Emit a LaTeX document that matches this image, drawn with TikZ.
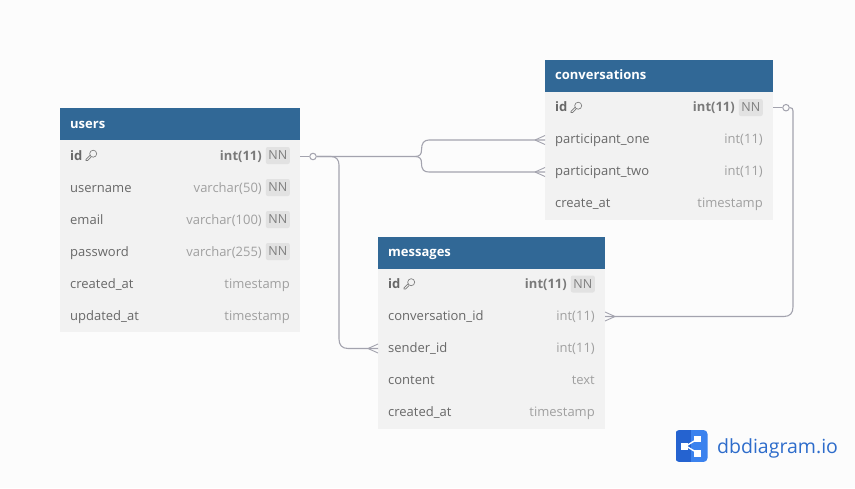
\documentclass[tikz,border=0pt]{standalone}
\usepackage{fontspec}
\setmainfont{Open Sans}
\usetikzlibrary{calc}
\definecolor{bgc}{HTML}{FCFCFC}
\definecolor{headc}{HTML}{316896}
\definecolor{rowc}{HTML}{F2F2F2}
\definecolor{namec}{HTML}{686868}
\definecolor{typec}{HTML}{A0A0A0}
\definecolor{pkc}{HTML}{7A7A7A}
\definecolor{nnbg}{HTML}{E2E2E2}
\definecolor{nnt}{HTML}{808080}
\definecolor{linec}{HTML}{A3A3AE}
\definecolor{logoa}{HTML}{2563D0}
\definecolor{logob}{HTML}{3B82EE}
\definecolor{logot}{HTML}{2D6CCB}
\tikzset{
  x=1pt,y=-1pt,
  headbox/.style={fill=headc,draw=none,minimum height=32pt,inner sep=0pt,anchor=north west,outer sep=0pt},
  rowbox/.style={fill=rowc,draw=none,minimum height=32pt,inner sep=0pt,anchor=north west,outer sep=0pt},
  headtxt/.style={text=white,font=\fontsize{13}{13}\selectfont\bfseries,anchor=base west,inner sep=0pt},
  nametxt/.style={text=namec,font=\fontsize{13}{13}\selectfont,anchor=base west,inner sep=0pt},
  pkname/.style={text=namec,font=\fontsize{13}{13}\selectfont\bfseries,anchor=base west,inner sep=0pt},
  typetxt/.style={text=typec,font=\fontsize{13}{13}\selectfont,anchor=base east,inner sep=0pt},
  pktype/.style={text=pkc,font=\fontsize{13}{13}\selectfont\bfseries,anchor=base east,inner sep=0pt},
  nntag/.style={fill=nnbg,text=nnt,font=\fontsize{12.5}{13}\selectfont,rounded corners=2pt,minimum width=24pt,minimum height=17pt,inner sep=0pt,anchor=east},
  rel/.style={draw=linec,line width=1.1pt},
  relthin/.style={draw=linec,line width=.9pt},
  zero/.style={circle,draw=linec,line width=1pt,fill=bgc,minimum size=6.5pt,inner sep=0pt},
  keyicon/.style={draw=pkc,line width=.65pt},
}
\def\bl{20}
% \tablehead{name}{x}{y}{width}{text}
\newcommand{\tablehead}[5]{%
  \node[headbox,minimum width=#4 pt] (#1) at (#2,#3) {};
  \node[headtxt] (#1-t) at (#2+10,#3+\bl) {#5};
}
% \tablerow{name}{x}{y}{width}{field}{type}{nn}
\newcommand{\tablerow}[7]{%
  \node[rowbox,minimum width=#4 pt] (#1) at (#2,#3) {};
  \node[nametxt] (#1-n) at (#2+10,#3+\bl) {#5};
  \ifx\relax#7\relax
    \node[typetxt] (#1-y) at (#2+#4-10,#3+\bl) {#6};
  \else
    \node[nntag] (#1-k) at (#2+#4-10,#3+15.5) {NN};
    \node[typetxt] (#1-y) at (#2+#4-38,#3+\bl) {#6};
  \fi
}
\newcommand{\pkrow}[5]{%
  \node[rowbox,minimum width=#4 pt] (#1) at (#2,#3) {};
  \node[pkname] (#1-n) at (#2+10,#3+\bl) {id};
  \node[nntag] (#1-k) at (#2+#4-10,#3+15.5) {NN};
  \node[pktype] (#1-y) at (#2+#4-38,#3+\bl) {#5};
  \begin{scope}[shift={(#2+31,#3+15.5)},keyicon]
    \draw (2.2,-1.8) circle (3.5pt);
    \draw (-1,-.2) -- (-5,3.8) -- (-5,5) -- (-3.4,5) -- (.2,1.4);
  \end{scope}
}
\begin{document}
\begin{tikzpicture}
\useasboundingbox (0,0) rectangle (855,488);
\fill[bgc] (0,0) rectangle (855,488);

% users
\def\bl{20}
\tablehead{users}{60}{108}{240}{users}
\pkrow{users-id}{60}{140}{240}{int(11)}
\tablerow{users-username}{60}{172}{240}{username}{varchar(50)}{1}
\tablerow{users-email}{60}{204}{240}{email}{varchar(100)}{1}
\tablerow{users-password}{60}{236}{240}{password}{varchar(255)}{1}
\tablerow{users-created}{60}{268}{240}{created\_at}{timestamp}{}
\tablerow{users-updated}{60}{300}{240}{updated\_at}{timestamp}{}

% conversations
\def\bl{19}
\tablehead{conv}{545}{60}{228}{conversations}
\pkrow{conv-id}{545}{92}{228}{int(11)}
\tablerow{conv-one}{545}{124}{228}{participant\_one}{int(11)}{}
\tablerow{conv-two}{545}{156}{228}{participant\_two}{int(11)}{}
\tablerow{conv-create}{545}{188}{228}{create\_at}{timestamp}{}

% messages
\def\bl{19.5}
\tablehead{msg}{378}{236.5}{227}{messages}
\pkrow{msg-id}{378}{268.5}{227}{int(11)}
\tablerow{msg-conv}{378}{300.5}{227}{conversation\_id}{int(11)}{}
\tablerow{msg-sender}{378}{332.5}{227}{sender\_id}{int(11)}{}
\tablerow{msg-content}{378}{364.5}{227}{content}{text}{}
\tablerow{msg-created}{378}{396.5}{227}{created\_at}{timestamp}{}

% connectors
\coordinate (usersport) at ($(users-id.east)+(0,.5)$);
\coordinate (convport) at ($(conv-id.east)+(0,-.3)$);
\node[zero] (uz) at (usersport-|313,0) {};
\node[zero] (cz) at (convport-|786,0) {};
\draw[rel] (usersport) -- (uz);
\draw[rel] (uz) -- (415,156.5)
  .. controls (420,156.5) and (421.5,154) .. (421.5,150)
  .. controls (421.5,143) and (424,140) .. (429,140) -- (conv-one.west);
\draw[rel] (415,156.5)
  .. controls (420,156.5) and (421.5,159) .. (421.5,163)
  .. controls (421.5,170) and (424,172) .. (429,172) -- (conv-two.west);
\draw[rel] (uz) -- (331,156.5) .. controls (336,156.5) and (339,159.5) .. (339,165)
  -- (339,339) .. controls (339,345) and (342,348.5) .. (348,348.5) -- (msg-sender.west);
\foreach \p in {conv-one,conv-two,msg-sender}{
  \draw[relthin] ($(\p.west)+(-10,0)$) -- ($(\p.west)+(0,-4.5)$);
  \draw[relthin] ($(\p.west)+(-10,0)$) -- ($(\p.west)+(0,4.5)$);
}
\draw[rel] (convport) -- (cz);
\draw[rel] (cz) -- (790,107.7) .. controls (792,107.7) and (793,108.7) .. (793,111)
  -- (793,307) .. controls (793,313) and (790,316.5) .. (784,316.5) -- (msg-conv.east);
\draw[relthin] ($(msg-conv.east)+(10,0)$) -- ($(msg-conv.east)+(0,-4.5)$);
\draw[relthin] ($(msg-conv.east)+(10,0)$) -- ($(msg-conv.east)+(0,4.5)$);

% logo
\begin{scope}
  \clip[rounded corners=4pt] (675.5,430) rectangle (707.5,462);
  \fill[logob] (675.5,430) rectangle (707.5,462);
  \fill[logoa] (675.5,430) rectangle (691,462);
\end{scope}
\draw[white,line width=1.4pt] (686,446) -- (697.5,439) (686,446) -- (697.5,453);
\fill[white] (681,442.5) rectangle (688,449.5);
\fill[white] (694,435.5) rectangle (701,442);
\fill[white] (694,450) rectangle (701,456.5);
\node[text=logot,font=\fontsize{19.5}{20}\selectfont,anchor=base west,inner sep=0pt] (logotxt) at (717,453) {dbdiagram.io};
\end{tikzpicture}
\end{document}
